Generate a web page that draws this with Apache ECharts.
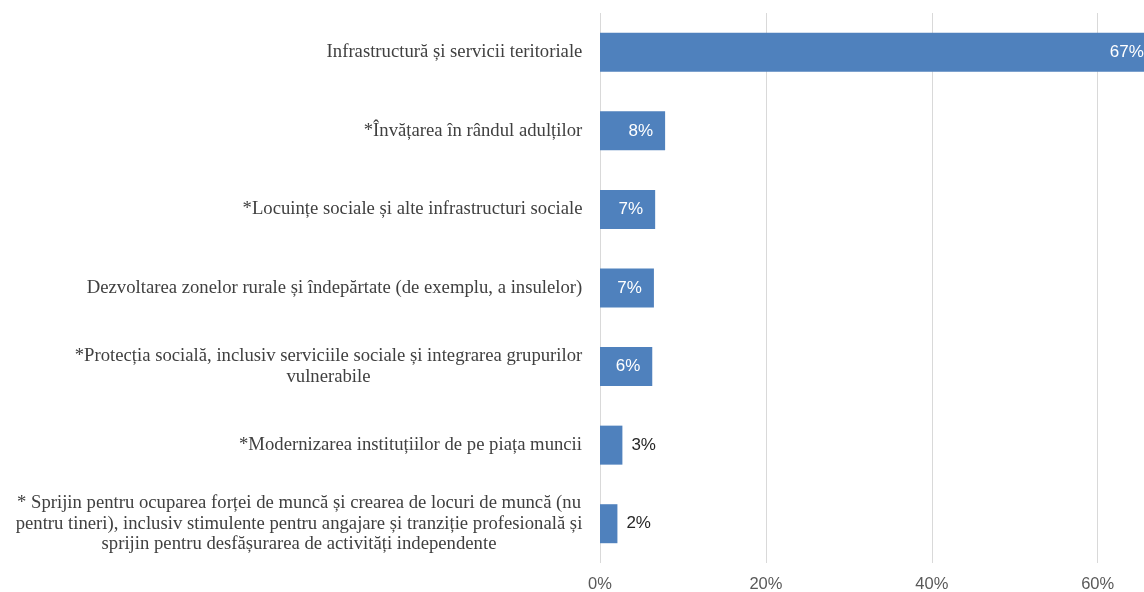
<!DOCTYPE html>
<html><head><meta charset="utf-8">
<script src="https://cdn.jsdelivr.net/npm/echarts@6/dist/echarts.min.js"></script>
<style>html,body{margin:0;padding:0;background:#fff}#c{width:1144px;height:592px}</style>
</head><body><div id="c"></div>
<script>
const categories = [
  "Infrastructură și servicii teritoriale",
  "*Învățarea în rândul adulților",
  "*Locuințe sociale și alte infrastructuri sociale",
  "Dezvoltarea zonelor rurale și îndepărtate (de exemplu, a insulelor)",
  "*Protecția socială, inclusiv serviciile sociale și integrarea grupurilor\nvulnerabile",
  "*Modernizarea instituțiilor de pe piața muncii",
  "* Sprijin pentru ocuparea forței de muncă și crearea de locuri de muncă (nu\npentru tineri), inclusiv stimulente pentru angajare și tranziție profesională și\nsprijin pentru desfășurarea de activități independente"
];
const values = [67, 7.85, 6.65, 6.5, 6.3, 2.7, 2.1];
const insideLabel = [true, true, true, true, true, false, false];
const tickValues = [0, 20, 40, 60, 80];

const catSize = 18.7;
const cv = document.createElement('canvas').getContext('2d');
cv.font = catSize + 'px "Liberation Serif"';
const rich = {};
categories.forEach((c, i) => {
  const lines = c.split('\n');
  const w = Math.max(...lines.map(l => cv.measureText(l).width));
  rich['r' + i] = { width: Math.ceil(w) + 1, align: 'center', fontFamily: 'Liberation Serif', fontSize: catSize, color: '#404040', lineHeight: 20.5 };
});

const chart = echarts.init(document.getElementById('c'), null, { renderer: 'canvas' });
chart.setOption({
  animation: false,
  grid: { left: 600, top: 13, height: 550, width: 8.295 * 80, outerBoundsMode: 'none', containLabel: false },
  xAxis: {
    type: 'value', min: 0, max: 80, interval: 20,
    axisLine: { show: false }, axisTick: { show: false },
    splitLine: { lineStyle: { color: '#d9d9d9', width: 1 } },
    axisLabel: { formatter: v => tickValues.includes(v) ? v + '%' : '', fontFamily: 'Liberation Sans', fontSize: 16.5, color: '#595959', margin: 13 }
  },
  yAxis: {
    type: 'category', inverse: true, data: categories,
    axisLine: { show: false }, axisTick: { show: false },
    axisLabel: {
      margin: 17, fontFamily: 'Liberation Serif', fontSize: catSize, color: '#404040', lineHeight: 20.5,
      formatter: (v, i) => v.split('\n').map(l => '{r' + i + '|' + l + '}').join('\n'),
      rich: rich
    }
  },
  series: [{
    type: 'bar', barWidth: 39,
    itemStyle: { color: '#4f81bd' },
    data: values.map((v, i) => ({
      value: v,
      label: insideLabel[i]
        ? { show: true, position: 'insideRight', distance: 12, color: '#ffffff' }
        : { show: true, position: 'right', distance: 9, color: '#262626' }
    })),
    label: { show: true, formatter: p => Math.round(p.value) + '%', fontFamily: 'Liberation Sans', fontSize: 17 }
  }]
});
</script></body></html>
